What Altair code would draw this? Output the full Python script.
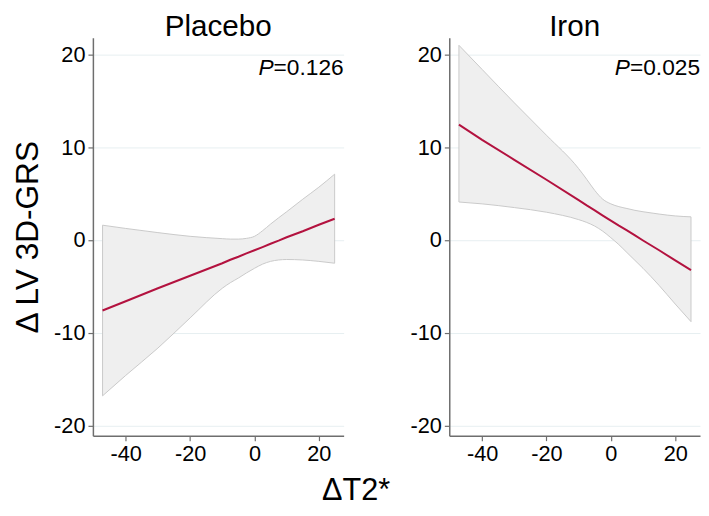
import altair as alt
import pandas as pd

# ---- data ----
x_grid = [-47.2, -40, -30, -20, -10, -7.5, -5, -2.5, 0, 2.5, 5, 7.5, 10, 15, 20, 24.9]

placebo_fit = [-7.6, -6.6, -5.2, -3.85, -2.5, -2.13, -1.8, -1.44, -1.1, -0.76, -0.4, -0.07, 0.3, 0.95, 1.65, 2.3]
placebo_lo = [-16.8, -14.6, -11.65, -8.4, -5.2, -4.6, -4.1, -3.55, -3.05, -2.6, -2.3, -2.15, -2.1, -2.15, -2.3, -2.5]
placebo_hi = [1.6, 1.25, 0.8, 0.4, 0.15, 0.1, 0.1, 0.18, 0.4, 1.0, 1.72, 2.4, 3.05, 4.4, 5.7, 7.1]

iron_fit = [12.45, 10.8, 8.65, 6.5, 4.3, 3.73, 3.2, 2.64, 2.1, 1.56, 1.05, 0.5, -0.05, -1.1, -2.2, -3.25]
iron_lo = [4.1, 3.9, 3.5, 3.0, 2.2, 1.9, 1.5, 0.95, 0.25, -0.5, -1.35, -2.2, -3.05, -4.9, -6.9, -8.8]
iron_hi = [21.0, 18.4, 14.8, 11.3, 7.7, 6.55, 5.35, 4.4, 3.9, 3.6, 3.4, 3.2, 3.05, 2.8, 2.6, 2.5]

panels = ["Placebo", "Iron"]
p_values = ["0.126", "0.025"]

x_ticks = [-40, -20, 0, 20]
y_ticks = [-20, -10, 0, 10, 20]
x_domain = [-50.2, 27.7]
y_domain = [-21.1, 21.8]

FONT = "Liberation Sans"
LINE_COLOR = "#b3123f"
W, H = 254, 403


def panel(name, fit, lo, hi, pval, first):
    df = pd.DataFrame({"x": x_grid, "fit": fit, "lo": lo, "hi": hi})
    xenc = alt.X(
        "x:Q",
        scale=alt.Scale(domain=x_domain, nice=False, zero=False),
        axis=alt.Axis(values=x_ticks, title=None, grid=False,
                      labelExpr="'' + datum.value"),
    )
    yaxis = alt.Axis(values=y_ticks, grid=True, labelExpr="'' + datum.value",
                     title="Δ LV 3D-GRS" if first else None)
    base = alt.Chart(df)
    band = base.mark_area(
        fill="#efefef", stroke="#c9c9c9", strokeWidth=1, interpolate="monotone"
    ).encode(
        x=xenc,
        y=alt.Y("lo:Q", scale=alt.Scale(domain=y_domain, nice=False, zero=False),
                axis=yaxis),
        y2="hi:Q",
    )
    line = base.mark_line(color=LINE_COLOR, strokeWidth=2).encode(x="x:Q", y="fit:Q")
    tdf = pd.DataFrame({"x": [x_domain[1]], "y": [17.8], "t": ["=" + pval], "p": ["P"]})
    t1 = alt.Chart(tdf).mark_text(
        align="right", baseline="alphabetic", fontSize=23, font=FONT, color="black"
    ).encode(x="x:Q", y="y:Q", text="t:N")
    t2 = alt.Chart(tdf).mark_text(
        align="right", baseline="alphabetic", fontSize=23, font=FONT, color="black",
        fontStyle="italic", dx=-71
    ).encode(x="x:Q", y="y:Q", text="p:N")
    return alt.layer(band, line, t1, t2).properties(
        width=W, height=H,
        title=alt.TitleParams(name, fontSize=30, font=FONT, fontWeight="normal",
                              color="black", offset=-4),
    )


left = panel(panels[0], placebo_fit, placebo_lo, placebo_hi, p_values[0], True)
right = panel(panels[1], iron_fit, iron_lo, iron_hi, p_values[1], False)

chart = alt.hconcat(left, right, spacing=65).properties(
    title=alt.TitleParams("ΔT2*", orient="bottom", anchor="middle", fontSize=31,
                          font=FONT, fontWeight="normal", color="black", offset=12),
    padding={"left": 3, "top": 0, "right": 0, "bottom": 0},
).configure_view(stroke="transparent").configure_axis(
    labelFont=FONT, titleFont=FONT, labelFontSize=22, titleFontSize=32,
    titleFontWeight="normal", labelColor="black", titleColor="black",
    domainColor="#6e6e6e", domainWidth=1.5, tickColor="#6e6e6e", tickWidth=1.2,
    tickSize=5, labelPadding=3, gridColor="#e7eff1", gridWidth=1,
    titlePadding=9,
)

chart.save("out.html", embed_options={"renderer": "svg", "actions": False})
